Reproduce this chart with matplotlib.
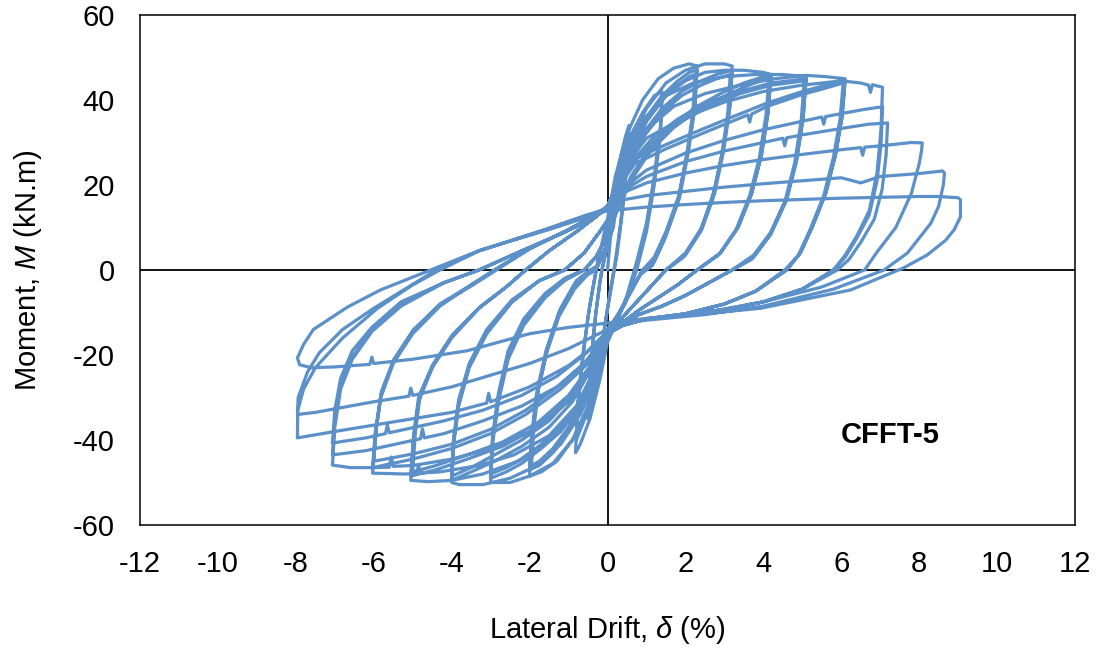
import matplotlib
matplotlib.use("Agg")
import matplotlib.pyplot as plt

plt.rcParams['font.family'] = ['Liberation Sans', 'DejaVu Sans']
plt.rcParams['mathtext.fontset'] = 'custom'
plt.rcParams['mathtext.rm'] = 'Liberation Sans'
plt.rcParams['mathtext.it'] = 'Liberation Sans:italic'

# ---------------- data (drift %, moment kN.m) ----------------
d_0a = [0, 0.1, 0.25, 0.4, 0.5, 0.47, 0.35, 0.2, 0.05, -0.1, -0.25, -0.38, -0.45, -0.42, -0.3, -0.15, 0]
m_0a = [0, 10, 20, 27, 30, 24, 12, 2, -6, -15, -23, -28, -30, -23, -10, 0, 6]
d_0b = [0, 0.15, 0.3, 0.45, 0.55, 0.52, 0.4, 0.25, 0.1, -0.05, -0.2, -0.35, -0.5, -0.47, -0.35, -0.2, -0.05, 0]
m_0b = [6, 16, 25, 31, 34, 27, 15, 4, -4, -12, -22, -30, -35, -27, -14, -3, 4, 8]

d_1a = [0, 0.2, 0.5, 0.9, 1.2, 1.4, 1.36, 1.2, 1.0, 0.75, 0.5, 0.25, 0, -0.2, -0.45, -0.7, -0.82, -0.78, -0.65, -0.5, -0.35, -0.2, 0]
m_1a = [8, 20, 30, 37, 41, 42, 34, 22, 11, 2, -6, -12, -17, -26, -35, -41, -43, -34, -22, -11, -3, 4, 10]
d_1b = [0, 0.3, 0.7, 1.1, 1.4, 1.36, 1.2, 1.0, 0.75, 0.45, 0.15, 0, -0.25, -0.5, -0.8, -0.76, -0.62, -0.45, -0.25, 0]
m_1b = [10, 22, 32, 37, 40, 32, 20, 9, 0, -8, -13, -16, -25, -33, -40, -31, -19, -8, 2, 12]

d_2a = [0, 0.2, 0.5, 0.9, 1.3, 1.7, 2.1, 2.3, 2.24, 2.08, 1.85, 1.5, 1.2, 0.9, 0.6, 0.3, 0, -0.2, -0.5, -0.9, -1.3, -1.7, -2.0, -1.95, -1.82, -1.58, -1.25, -0.85, -0.5, -0.3, -0.1, 0.1]
m_2a = [12, 22, 32, 40, 45, 47.5, 48.5, 48, 39, 29, 18, 9, 3, 0, -5, -10, -15, -24, -33, -40, -45, -47.5, -48.5, -40, -30, -20, -11, -4.5, -1, 0, 4, 9]
d_2b = [0.1, 0.3, 0.6, 1.0, 1.4, 1.8, 2.1, 2.3, 2.24, 2.08, 1.85, 1.5, 1.2, 0.9, 0.6, 0.3, 0, -0.25, -0.6, -1.0, -1.4, -1.75, -2.0, -1.95, -1.82, -1.58, -1.25, -0.85, -0.5, -0.3, -0.1, 0.1]
m_2b = [9, 20, 29, 36, 41, 44.5, 46.5, 47, 38, 28, 17, 8, 2, 0, -5, -10, -14, -23, -32, -38, -43, -46, -47, -39, -29, -19, -10, -3.5, -1, 0, 4, 9]
d_2c = [0.1, 0.3, 0.6, 1.0, 1.4, 1.8, 2.1, 2.25, 2.19, 2.03, 1.8, 1.45, 1.15, 0.85, 0.55, 0.25, 0, -0.25, -0.6, -1.0, -1.4, -1.75, -1.95, -1.9, -1.77, -1.53, -1.2, -0.8, -0.45, -0.25, -0.05, 0.15]
m_2c = [9, 19, 28, 35, 40, 43.5, 45.5, 46, 37, 27, 16, 7, 1, -1, -6, -11, -14, -22, -31, -37, -42, -45, -46, -38, -28, -18, -9, -2.5, 0, 1, 5, 10]

d_3a = [0.15, 0.3, 0.6, 1.0, 1.5, 2.0, 2.5, 3.0, 3.2, 3.14, 2.98, 2.75, 2.42, 2.0, 1.5, 1.1, 0.7, 0.3, 0, -0.2, -0.5, -0.9, -1.4, -2.0, -2.5, -3.0, -2.95, -2.8, -2.55, -2.15, -1.6, -1.1, -0.6, -0.3, 0, 0.2]
m_3a = [10, 20, 30, 38, 44, 47, 48.5, 48.5, 48, 39, 29, 19, 10, 4, 0, -4, -8, -12, -15, -23, -32, -40, -45.5, -48.5, -50, -50, -41, -31, -21, -13, -6.5, -2.5, 0, 3, 8, 13]
d_3b = [0.2, 0.5, 0.9, 1.4, 1.9, 2.4, 2.8, 3.2, 3.14, 2.98, 2.75, 2.42, 2.0, 1.5, 1.1, 0.7, 0.3, 0, -0.3, -0.7, -1.2, -1.7, -2.2, -2.6, -3.0, -2.95, -2.8, -2.55, -2.15, -1.6, -1.1, -0.6, -0.3, 0, 0.2]
m_3b = [13, 24, 32, 38, 42, 44.5, 46, 47, 38, 28, 18, 9.5, 3.5, 0, -4, -8, -12, -15, -24, -32, -38, -42, -45.5, -47.5, -49, -40, -30, -20, -12, -6, -2, 0, 3, 8, 13]
d_3c = [0.2, 0.5, 0.9, 1.4, 1.9, 2.4, 2.8, 3.15, 3.09, 2.93, 2.7, 2.37, 1.95, 1.5, 1.1, 0.7, 0.3, 0, -0.3, -0.7, -1.2, -1.7, -2.2, -2.6, -3.0, -2.95, -2.8, -2.55, -2.15, -1.6, -1.1, -0.6, -0.3, 0, 0.2]
m_3c = [13, 23, 31, 37, 41, 43.5, 45, 46, 37, 27, 17, 9, 3, 0, -4, -8, -12, -15, -23, -31, -37, -41, -44.5, -46.5, -48, -39, -29, -19, -11.5, -5.5, -2, 0, 3, 8, 13]

d_4a = [0.2, 0.5, 1.0, 1.5, 2.0, 2.5, 3.0, 3.5, 4.0, 4.2, 4.12, 3.95, 3.7, 3.35, 2.9, 2.3, 1.8, 1.3, 0.8, 0.3, 0, -0.3, -0.7, -1.2, -1.8, -2.5, -3.2, -3.8, -4.0, -3.95, -3.82, -3.55, -3.1, -2.45, -1.75, -1.1, -0.6, -0.2, 0.1]
m_4a = [13, 25, 35, 41, 44.5, 46.5, 47, 47, 46.5, 46, 37, 27, 18, 10, 4, 0, -3.5, -6.5, -9.5, -13, -15, -25, -34, -41, -46, -49, -50.5, -50.5, -50, -41, -32, -23, -15, -7.5, -2.5, 0, 4, 9, 13]
d_4b = [0.2, 0.6, 1.1, 1.7, 2.3, 2.9, 3.5, 4.0, 4.2, 4.12, 3.95, 3.7, 3.35, 2.9, 2.3, 1.8, 1.3, 0.8, 0.3, 0, -0.4, -0.9, -1.5, -2.2, -2.9, -3.5, -4.0, -3.95, -3.82, -3.55, -3.1, -2.45, -1.75, -1.1, -0.6, -0.2, 0.1]
m_4b = [13, 22, 29, 34.5, 38.5, 41.5, 44, 45.5, 46, 37, 27, 18, 10, 4, 0, -3.5, -6.5, -9.5, -13, -15, -23, -31, -37, -41.5, -45, -47.5, -49.5, -40.5, -31.5, -22.5, -14.5, -7.5, -2.5, 0, 4, 9, 13]
d_4c = [0.2, 0.6, 1.1, 1.7, 2.3, 2.9, 3.5, 4.0, 4.15, 4.07, 3.9, 3.65, 3.3, 2.85, 2.3, 1.8, 1.3, 0.8, 0.3, 0, -0.4, -0.9, -1.5, -2.2, -2.9, -3.5, -4.0, -3.95, -3.82, -3.55, -3.1, -2.45, -1.75, -1.1, -0.6, -0.2, 0.1]
m_4c = [13, 21, 28, 33.5, 37.5, 40.5, 43, 44.8, 45.5, 36.5, 26.5, 17.5, 9.5, 3.5, 0, -3.5, -6.5, -9.5, -13, -15, -22, -29.5, -35.5, -40, -43.5, -46.5, -48.5, -39.5, -30.5, -22, -14, -7, -2.5, 0, 4, 9, 13]

d_5a = [0.1, 0.4, 0.9, 1.5, 2.2, 3.0, 3.8, 4.5, 5.1, 5.02, 4.85, 4.6, 4.2, 3.75, 3.2, 2.6, 2.0, 1.4, 0.8, 0.3, 0, -0.3, -0.8, -1.5, -2.3, -3.2, -4.0, -4.6, -5.05, -4.98, -4.85, -4.5, -4.0, -3.3, -2.6, -2.1, -1.5, -0.8, -0.3, 0, 0.1]
m_5a = [14, 25, 35, 41, 44, 45.5, 46, 46, 45.5, 36, 26, 17, 9, 3.5, 0, -3, -6, -8.5, -10.5, -13, -15, -24, -33, -40, -45, -48, -49.5, -49.8, -49.5, -40, -31, -23, -16, -9, -4, 0, 4.5, 9, 12.5, 15, 17]
d_5b = [0.1, 0.5, 1.1, 1.8, 2.6, 3.4, 4.2, 5.1, 5.02, 4.85, 4.6, 4.2, 3.75, 3.2, 2.6, 2.0, 1.4, 0.8, 0.3, 0, -0.4, -1.0, -1.8, -2.7, -3.6, -4.4, -5.05, -4.98, -4.85, -4.5, -4.0, -3.3, -2.6, -2.1, -1.5, -0.8, -0.3, 0, 0.1]
m_5b = [17, 24, 30.5, 35.5, 39.5, 42, 44, 45, 35.5, 25.5, 16.5, 8.5, 3, 0, -3, -6, -8.5, -10.5, -13, -15, -23, -30.5, -37, -41.5, -44.5, -47, -48.5, -39, -30, -22.5, -15.5, -9, -4, 0, 4.5, 9, 12.5, 15, 17]
d_5c = [0.1, 0.5, 1.1, 1.8, 2.6, 3.4, 4.2, 5.05, 4.97, 4.8, 4.55, 4.15, 3.7, 3.2, 2.6, 2.0, 1.4, 0.8, 0.3, 0, -0.4, -1.0, -1.8, -2.7, -3.6, -4.4, -5.0, -4.93, -4.8, -4.45, -3.95, -3.25, -2.6, -2.1, -1.5, -0.8, -0.3, 0, 0.1]
m_5c = [17, 23.5, 29.5, 34.5, 38.5, 41.5, 43.5, 44.5, 35, 25, 16, 8, 2.5, 0, -3, -6, -8.5, -10.5, -13, -15, -22, -29.5, -36, -40.5, -43.5, -46, -47.5, -38, -29, -22, -15, -8.5, -4, 0, 4.5, 9, 12.5, 15, 17]

d_6a = [0.1, 0.5, 1.0, 1.7, 2.5, 3.4, 4.3, 5.1, 5.6, 6.1, 6.02, 5.85, 5.6, 5.25, 4.95, 4.6, 3.8, 3.0, 2.0, 1.0, 0.4, 0, -0.3, -0.8, -1.5, -2.4, -3.3, -4.3, -4.8, -4.85, -4.9, -5.2, -6.03, -5.96, -5.82, -5.5, -5.0, -4.3, -3.5, -2.9, -2.0, -1.0, -0.3, 0, 0.1]
m_6a = [17, 26, 33, 38.5, 41.5, 43.5, 45, 45.8, 45.5, 45, 36, 27, 18, 10, 4, 0, -5, -8, -10.3, -11.5, -13, -15, -23, -32, -39, -43.5, -46, -47.5, -47.8, -46, -47.9, -48, -47.8, -39, -30, -22, -15, -8.5, -3.5, 0, 5, 9.5, 13, 15, 17]
d_6b = [0.1, 0.67, 1.5, 2.4, 3.2, 4.1, 5.0, 5.6, 6.1, 6.02, 5.85, 5.6, 5.25, 4.95, 4.6, 3.8, 3.0, 2.0, 1.0, 0.4, 0, -0.5, -1.2, -2.1, -3.0, -4.0, -5.0, -6.03, -5.96, -5.82, -5.5, -5.0, -4.3, -3.5, -2.9, -2.0, -1.0, -0.3, 0, 0.1]
m_6b = [17, 26, 29.5, 33, 36, 39.3, 42, 43.5, 44.7, 36, 27, 18, 10, 4, 0, -5, -8, -10.3, -11.5, -13, -15, -22, -28, -34, -38.5, -42, -44.5, -46.5, -38, -29.5, -21.5, -14.5, -8, -3.5, 0, 5, 9.5, 13, 15, 17]
d_6c = [0.1, 0.7, 1.5, 2.4, 3.2, 3.6, 3.65, 3.7, 4.1, 5.0, 5.6, 6.05, 5.97, 5.8, 5.55, 5.2, 4.9, 4.55, 3.8, 3.0, 2.0, 1.0, 0.4, 0, -0.5, -1.2, -2.1, -3.0, -4.0, -5.0, -6.0, -5.93, -5.8, -5.48, -4.98, -4.28, -3.45, -2.85, -2.0, -1.0, -0.3, 0, 0.1]
m_6c = [17, 25, 28.5, 32, 35, 36.5, 34.8, 36.7, 38.5, 41.3, 42.8, 44, 35.5, 26.5, 17.5, 9.5, 3.5, 0, -5, -8, -10.3, -11.5, -13, -14.5, -21, -27, -33, -37.5, -41, -43.3, -45, -37, -28.5, -21, -14, -8, -3.5, 0, 5, 9.5, 13, 15, 17]

d_7a = [0.1, 0.5, 1.0, 2.0, 3.0, 4.0, 5.0, 6.0, 6.5, 6.7, 6.75, 6.8, 7.06, 7.02, 6.92, 6.72, 6.4, 6.1, 5.8, 5.0, 4.0, 3.0, 2.0, 1.0, 0.4, 0, -0.4, -1.0, -2.0, -3.0, -4.0, -5.0, -5.5, -5.55, -5.6, -6.0, -6.6, -7.06, -7.0, -6.85, -6.55, -6.05, -5.3, -4.2, -3.3, -2.2, -1.2, -0.4, 0, 0.1]
m_7a = [17, 25, 31, 36, 39.5, 42, 43.5, 44.5, 44, 43.5, 41.8, 43.6, 43, 33, 23, 14, 8, 3.5, 0, -4.5, -7.5, -9.3, -10.5, -11.5, -13, -15, -23, -31, -38, -42, -44.5, -46, -46.2, -44, -46.4, -46.5, -46.5, -45.9, -37, -28, -21, -14.5, -8.5, -3, 0, 4.5, 8.5, 12, 14.5, 17]
d_7b = [0.1, 1.0, 2.0, 3.0, 4.0, 5.0, 5.5, 5.55, 5.6, 6.0, 6.6, 7.06, 7.02, 6.92, 6.72, 6.4, 6.1, 5.8, 5.0, 4.0, 3.0, 2.0, 1.0, 0.4, 0, -0.6, -1.3, -2.2, -3.2, -4.2, -4.7, -4.75, -4.8, -5.2, -6.2, -7.06, -7.0, -6.85, -6.55, -6.05, -5.3, -4.2, -3.3, -2.2, -1.2, -0.4, 0, 0.1]
m_7b = [17, 23.5, 27.5, 30.5, 33, 35, 36, 34.3, 36.1, 36.8, 37.8, 38.4, 29.5, 21, 13, 7.5, 3, 0, -4.5, -7.5, -9.3, -10.5, -11.5, -13, -15, -22, -27.5, -32, -35.5, -38.5, -39.5, -37.4, -39.7, -40.5, -42.5, -43.5, -35, -27, -20.5, -14, -8, -3, 0, 4.5, 8.5, 12, 14.5, 17]
d_7c = [0.1, 1.0, 2.0, 3.0, 4.0, 4.5, 4.55, 4.6, 5.0, 6.0, 6.7, 7.19, 7.15, 7.05, 6.85, 6.5, 6.2, 5.9, 5.0, 4.0, 3.0, 2.0, 1.0, 0.4, 0, -0.6, -1.3, -2.2, -3.2, -4.2, -5.2, -5.6, -5.65, -5.7, -6.2, -7.06, -7.0, -6.85, -6.55, -6.05, -5.3, -4.2, -3.3, -2.2, -1.2, -0.4, 0, 0.1]
m_7c = [17, 22, 25.5, 28, 30, 31, 29.2, 31.1, 31.8, 33.3, 34.3, 34.6, 27, 19, 12, 6.5, 2.5, 0, -4.5, -7.5, -9.3, -10.5, -11.5, -13, -14.5, -20, -25, -29.5, -33, -35.5, -37.5, -38.3, -36.5, -38.5, -39.5, -40.7, -33, -25.5, -19, -13.5, -7.5, -3, 0, 4.5, 8.5, 12, 14.5, 17]

d_8a = [0.1, 1.0, 2.0, 3.0, 4.0, 5.0, 6.0, 6.5, 6.55, 6.6, 7.0, 7.8, 8.08, 8.06, 8.0, 7.8, 7.4, 6.9, 6.6, 5.5, 4.0, 2.5, 1.0, 0.4, 0, -0.5, -1.0, -2.0, -3.0, -3.05, -3.1, -4.0, -6.0, -7.0, -7.96, -7.95, -7.8, -7.5, -6.8, -5.9, -5.0, -4.3, -3.3, -1.6, -0.5, 0, 0.1]
m_8a = [17, 20.5, 22.8, 24.6, 26, 27.2, 28.3, 28.8, 27, 28.9, 29.2, 30, 29.9, 28, 25, 18, 10, 4, 0, -4, -7.5, -10, -11.5, -12.5, -14.5, -19, -22.5, -27.5, -31, -29, -31.3, -33.5, -36.5, -38, -39.5, -33, -28, -23, -16, -9, -3.5, 0, 4.5, 9.5, 13, 14.5, 16]
d_8b = [0.1, 1.0, 2.0, 3.0, 4.0, 5.0, 6.0, 6.5, 7.0, 8.0, 8.6, 8.65, 8.62, 8.5, 8.3, 7.7, 7.1, 5.8, 4.0, 2.5, 1.0, 0.4, 0, -1.0, -2.0, -4.0, -5.0, -5.05, -5.1, -6.0, -7.5, -7.96, -7.94, -7.7, -7.4, -6.8, -6.0, -5.2, -4.4, -3.3, -1.6, -0.5, 0, 0.1]
m_8b = [16, 17.5, 18.5, 19.5, 20.3, 21, 21.7, 20.5, 22, 22.7, 23.3, 22.8, 20, 15, 11, 4, 0, -4.5, -8.5, -10.5, -11.8, -12.5, -14, -18.5, -22, -27.5, -29.5, -27.8, -29.7, -31, -33.5, -34, -30, -24, -19.5, -14, -9, -4.5, 0, 4.5, 9.5, 13, 14, 15]
d_8c = [0.1, 1.0, 2.0, 3.0, 4.0, 5.0, 6.0, 7.0, 8.0, 8.5, 9.0, 9.06, 9.06, 8.9, 8.68, 8.2, 7.6, 6.24, 5.0, 3.93, 2.5, 1.1, 0.4, 0, -1.0, -2.0, -3.6, -5.0, -6.0, -6.05, -6.1, -7.0, -7.6, -7.9, -7.96, -7.8, -7.55, -6.67, -5.83, -4.54, -3.26, -1.54, -0.5, 0, 0.3]
m_8c = [14, 14.8, 15.4, 15.9, 16.3, 16.6, 16.9, 17.1, 17.3, 17.3, 17, 16.5, 12.5, 9.5, 7, 3.5, 0.5, -4.7, -7, -9, -10.3, -11.3, -12, -12.5, -13.5, -15, -19, -21, -22, -20.5, -22.2, -22.8, -23, -22.3, -20.7, -17.5, -14, -8.7, -4.7, 0, 4.7, 9.4, 12.5, 14, 16]

x_ticks = [-12, -10, -8, -6, -4, -2, 0, 2, 4, 6, 8, 10, 12]
y_ticks = [-60, -40, -20, 0, 20, 40, 60]
specimen_label = "CFFT-5"

drift_cycles = [d_0a, d_0b, d_1a, d_1b, d_2a, d_2b, d_2c, d_3a, d_3b, d_3c,
                d_4a, d_4b, d_4c, d_5a, d_5b, d_5c, d_6a, d_6b, d_6c,
                d_7a, d_7b, d_7c, d_8a, d_8b, d_8c]
moment_cycles = [m_0a, m_0b, m_1a, m_1b, m_2a, m_2b, m_2c, m_3a, m_3b, m_3c,
                 m_4a, m_4b, m_4c, m_5a, m_5b, m_5c, m_6a, m_6b, m_6c,
                 m_7a, m_7b, m_7c, m_8a, m_8b, m_8c]

drift = [v for c in drift_cycles for v in c]
moment = [v for c in moment_cycles for v in c]

# ---------------- figure ----------------
fig = plt.figure(figsize=(10.99, 6.55), dpi=100)
ax = fig.add_axes([140 / 1099, 1 - 525 / 655, (1075 - 140) / 1099, (525 - 15) / 655])

ax.axhline(0, color='black', lw=1.3, zorder=1)
ax.axvline(0, color='black', lw=1.3, zorder=1)
ax.plot(drift, moment, color='#5B90C8', lw=2.3, solid_joinstyle='round',
        solid_capstyle='round', zorder=2)

ax.set_xlim(-12, 12)
ax.set_ylim(-60, 60)
ax.set_xticks(x_ticks)
ax.set_yticks(y_ticks)
ax.set_xticklabels([str(t) for t in x_ticks])
ax.set_yticklabels([str(t) for t in y_ticks])
ax.tick_params(length=0, labelsize=21, pad=18, colors='black')
for s in ax.spines.values():
    s.set_color('black')
    s.set_linewidth(1.1)

ax.text(7.26, -38.8, specimen_label, fontsize=21, fontweight='bold',
        ha='center', va='center')

fig.text(607 / 1099, 1 - 630 / 655, r"Lateral Drift, $\mathit{\delta}$ (%)",
         fontsize=21, ha='center', va='center')
fig.text(28 / 1099, 1 - 270 / 655, r"Moment, $\mathit{M}$ (kN.m)",
         fontsize=21, ha='center', va='center', rotation=90)

fig.savefig("out.png", dpi=100)
